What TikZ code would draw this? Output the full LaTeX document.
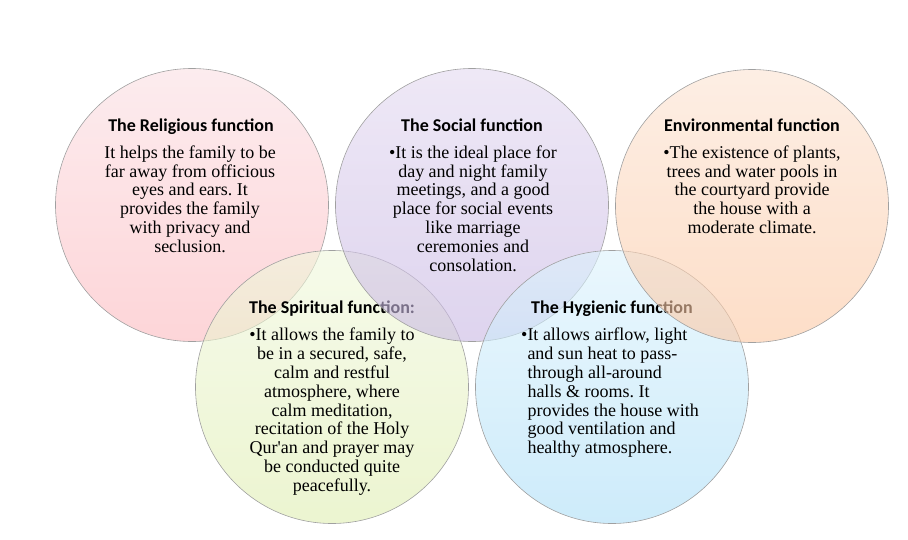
\documentclass[tikz,border=0pt]{standalone}
\usepackage{fontspec}
\setmainfont{Liberation Serif}
\newfontfamily\headfont{Carlito}
\usetikzlibrary{positioning}
\frenchspacing

\definecolor{ballline}{RGB}{160,160,160}
\definecolor{relTop}{RGB}{250,223,227}
\definecolor{relBot}{RGB}{252,185,190}
\definecolor{socTop}{RGB}{227,217,240}
\definecolor{socBot}{RGB}{200,183,227}
\definecolor{envTop}{RGB}{252,227,210}
\definecolor{envBot}{RGB}{252,200,163}
\definecolor{spiTop}{RGB}{240,247,220}
\definecolor{spiBot}{RGB}{223,238,177}
\definecolor{hygTop}{RGB}{220,242,252}
\definecolor{hygBot}{RGB}{172,222,247}

\tikzset{
  ball/.style={draw=ballline,line width=.6pt,fill opacity=.6},
  headtext/.style={font=\headfont\bfseries\fontsize{18}{20}\selectfont,inner sep=0pt,anchor=base},
  bodytext/.style={font=\fontsize{18}{18.8}\selectfont,inner sep=0pt,align=center,anchor=north}
}

\begin{document}
\begin{tikzpicture}[x=1pt,y=-1pt]
\useasboundingbox (0,0) rectangle (908,539);
\coordinate (rel) at (192,205);
\coordinate (soc) at (472,205);
\coordinate (env) at (752,206);
\coordinate (spi) at (332,387);
\coordinate (hyg) at (612,387);
\shade[ball,top color=relTop,bottom color=relBot] (rel) circle (136.5pt);
\node[headtext] (rel-head) at (191,131) {The Religious function};
\node[bodytext] (rel-body) at (190,145.5) {It helps the family to be\\far away from officious\\eyes and ears. It\\provides the family\\with privacy and\\seclusion.};
\shade[ball,top color=spiTop,bottom color=spiBot] (spi) circle (136.5pt);
\node[headtext] (spi-head) at (332,313) {The Spiritual function:};
\node[bodytext] (spi-body) at (332,328) {\textbullet It allows the family to\\be in a secured, safe,\\calm and restful\\atmosphere, where\\calm meditation,\\recitation of the Holy\\Qur\textquotesingle an and prayer may\\be conducted quite\\peacefully.};
\shade[ball,top color=socTop,bottom color=socBot] (soc) circle (136.5pt);
\node[headtext] (soc-head) at (472,131) {The Social function};
\node[bodytext] (soc-body) at (473,145.5) {\textbullet It is the ideal place for\\day and night family\\meetings, and a good\\place for social events\\like marriage\\ceremonies and\\consolation.};
\shade[ball,top color=hygTop,bottom color=hygBot] (hyg) circle (136.5pt);
\node[headtext] (hyg-head) at (612,313) {The Hygienic function};
\node[bodytext,align=left,anchor=north west] (hyg-body) at (521,328) {\textbullet It allows airflow, light\\\hphantom{\textbullet}and sun heat to pass-\\\hphantom{\textbullet}through all-around\\\hphantom{\textbullet}halls \& rooms. It\\\hphantom{\textbullet}provides the house with\\\hphantom{\textbullet}good ventilation and\\\hphantom{\textbullet}healthy atmosphere.};
\shade[ball,top color=envTop,bottom color=envBot] (env) circle (136.5pt);
\node[headtext] (env-head) at (752,131) {Environmental function};
\node[bodytext] (env-body) at (752,145.5) {\textbullet The existence of plants,\\trees and water pools in\\the courtyard provide\\the house with a\\moderate climate.};
\end{tikzpicture}
\end{document}
